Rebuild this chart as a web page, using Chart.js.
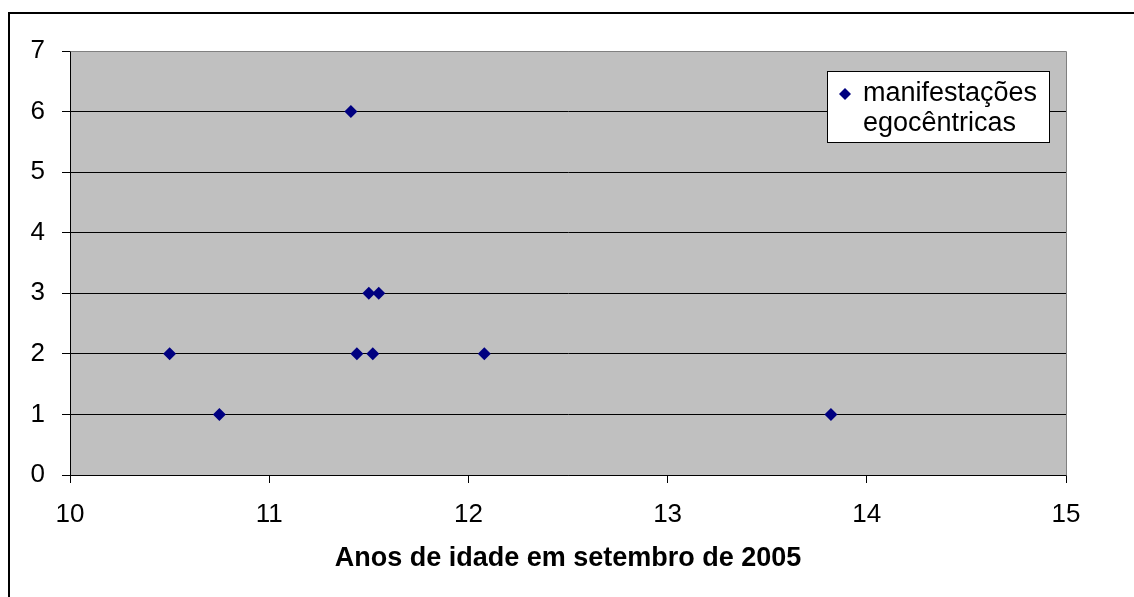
<!DOCTYPE html>
<html>
<head>
<meta charset="utf-8">
<script src="https://cdn.jsdelivr.net/npm/chart.js@4.4.1/dist/chart.umd.min.js"></script>
<style>
html,body{margin:0;padding:0;background:#fff;}
#wrap{width:1134px;height:597px;position:relative;}
</style>
</head>
<body>
<div id="wrap"><canvas id="c" width="1134" height="597"></canvas></div>
<script>
const ages = [10.50, 10.75, 11.41, 11.44, 11.50, 11.52, 11.55, 12.08, 13.82];
const counts = [2, 1, 6, 2, 3, 2, 3, 2, 1];
const seriesLabel = ['manifestações', 'egocêntricas'];
const xAxisTitle = 'Anos de idade em setembro de 2005';
const xMin = 10, xMax = 15, yMin = 0, yMax = 7;

const points = ages.map((a, i) => ({x: a, y: counts[i]}));
const FONT = "'Liberation Sans', Arial, sans-serif";

const decor = {
  id: 'decor',
  beforeDraw(chart) {
    const {ctx, chartArea: a} = chart;
    ctx.save();
    ctx.fillStyle = '#fff';
    ctx.fillRect(0, 0, chart.width, chart.height);
    ctx.fillStyle = '#C0C0C0';
    ctx.fillRect(a.left, a.top, a.right - a.left, a.bottom - a.top);
    ctx.restore();
  },
  afterDraw(chart) {
    const {ctx, chartArea: a} = chart;
    ctx.save();
    ctx.strokeStyle = '#808080';
    ctx.lineWidth = 1;
    ctx.beginPath();
    ctx.moveTo(Math.round(a.left) + 0.5, Math.round(a.top) + 0.5);
    ctx.lineTo(Math.round(a.right) + 0.5, Math.round(a.top) + 0.5);
    ctx.lineTo(Math.round(a.right) + 0.5, Math.round(a.bottom) + 0.5);
    ctx.stroke();
    ctx.strokeStyle = '#000';
    ctx.lineWidth = 2;
    ctx.strokeRect(9, 13, 1140, 600);
    const lx = 827, ly = 71, lw = 222, lh = 71;
    ctx.fillStyle = '#fff';
    ctx.fillRect(lx, ly, lw, lh);
    ctx.strokeStyle = '#000';
    ctx.lineWidth = 1;
    ctx.strokeRect(lx + 0.5, ly + 0.5, lw, lh);
    const mx = 845, my = 94, r = 6;
    ctx.fillStyle = '#000080';
    ctx.beginPath();
    ctx.moveTo(mx, my - r); ctx.lineTo(mx + r, my); ctx.lineTo(mx, my + r); ctx.lineTo(mx - r, my);
    ctx.closePath(); ctx.fill();
    ctx.fillStyle = '#000';
    ctx.font = '27px ' + FONT;
    ctx.textBaseline = 'middle';
    ctx.textAlign = 'left';
    ctx.fillText(seriesLabel[0], 863, 94);
    ctx.fillText(seriesLabel[1], 863, 124);
    ctx.restore();
  }
};

new Chart(document.getElementById('c'), {
  type: 'scatter',
  data: {
    datasets: [{
      label: seriesLabel.join(' '),
      data: points,
      pointStyle: 'rectRot',
      pointRadius: 6.5,
      pointHoverRadius: 6.5,
      backgroundColor: '#000080',
      borderColor: '#000080',
      borderWidth: 0
    }]
  },
  options: {
    responsive: false,
    animation: false,
    events: [],
    layout: {padding: {left: 0, top: 51, right: 68, bottom: 0}},
    plugins: {legend: {display: false}, tooltip: {enabled: false}},
    scales: {
      x: {
        type: 'linear', min: xMin, max: xMax,
        ticks: {stepSize: 1, color: '#000', font: {family: FONT, size: 26}, padding: 16, maxRotation: 0},
        grid: {drawOnChartArea: false, drawTicks: true, tickLength: 8, tickColor: '#000'},
        border: {color: '#000', width: 1},
        title: {display: true, text: xAxisTitle, color: '#000', font: {family: FONT, size: 27, weight: 'bold'}, padding: {top: 0, bottom: 22}},
        afterFit(s) { s.height = 122; }
      },
      y: {
        type: 'linear', min: yMin, max: yMax,
        ticks: {stepSize: 1, color: '#000', font: {family: FONT, size: 26}, padding: 17},
        grid: {color: (c) => (c.tick && c.tick.value === yMax ? '#808080' : '#000'), lineWidth: 1, drawTicks: true, tickLength: 8, tickColor: '#000'},
        border: {color: '#000', width: 1},
        afterFit(s) { s.width = 70; }
      }
    }
  },
  plugins: [decor]
});
</script>
</body>
</html>
